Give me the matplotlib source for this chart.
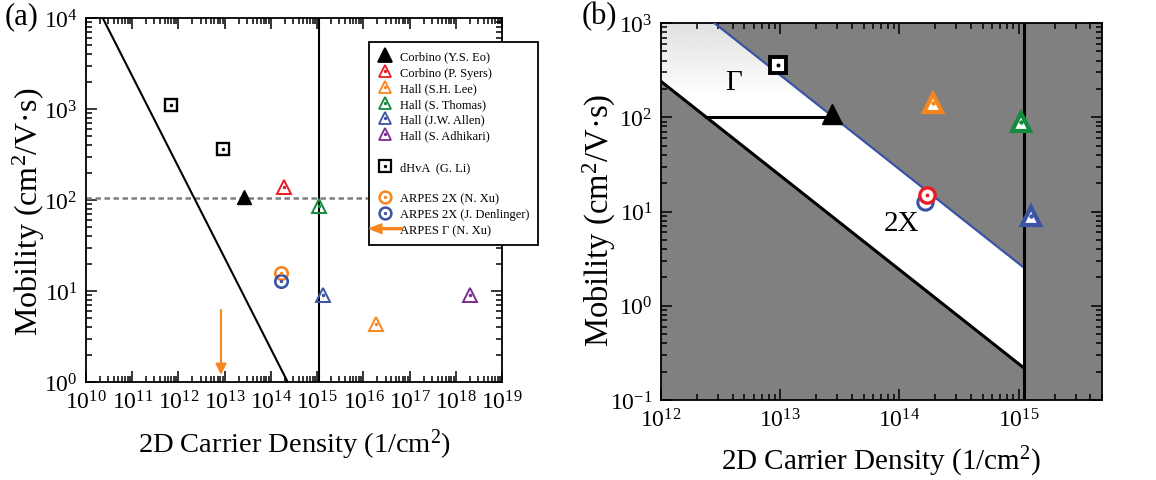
import numpy as np
import matplotlib
matplotlib.use('Agg')
import matplotlib.pyplot as plt
import matplotlib.patches as mpatches
from matplotlib.lines import Line2D
from matplotlib.legend_handler import HandlerPatch
from matplotlib.ticker import LogLocator, NullFormatter

plt.rcParams['font.family'] = ['Liberation Serif', 'DejaVu Serif']
plt.rcParams['mathtext.fontset'] = 'custom'
plt.rcParams['mathtext.rm'] = 'Liberation Serif'
plt.rcParams['mathtext.it'] = 'Liberation Serif:italic'

RED = '#ec1c24'
ORANGE = '#f7861f'
GREEN = '#138a3c'
BLUE = '#3a53a4'
PURPLE = '#7d2c8f'
GRAY = '#808080'

# ---- panel (a) data: density (1/cm^2), mobility (cm^2/V.s) ----
corbino_eo = ([2.6e13], [107])
corbino_syers = ([1.9e14], [138])
hall_lee = ([1.9e16], [4.3])
hall_thomas = ([1.1e15], [86])
hall_allen = ([1.35e15], [9.0])
hall_adhikari = ([2.0e18], [9.0])
dhva_li = ([7.0e11, 9.3e12], [1120, 365])
arpes_2x_xu = ([1.65e14], [15.8])
arpes_2x_denlinger = ([1.65e14], [12.9])
arpes_gamma_x = 8.3e12
arpes_gamma_y = (6.2, 1.2)

limit_line_a = ([2.3e10, 2.3e14], [1e4, 1.0])
vertical_n = 1.1e15
dashed_mu = 105

# ---- panel (b) data ----
b_square = ([9.5e12], [355])
b_black_tri = ([2.7e13], [107])
b_orange_tri = ([1.9e14], [141])
b_green_tri = ([1.05e15], [89])
b_blue_tri = ([1.26e15], [8.9])
b_red_circ = ([1.7e14], [15.0])
b_blue_circ = ([1.65e14], [12.6])
lower_line = ([1.0e12, 1.1e15], [240, 0.22])
upper_line = ([2.8e12, 1.1e15], [1000, 2.55])
gamma_bar = ([2.37e12, 2.7e13], [101, 101])


def style_log_axes(ax, tick_size):
    for s in ax.spines.values():
        s.set_linewidth(1.3)
    for axis in (ax.xaxis, ax.yaxis):
        axis.set_major_locator(LogLocator(base=10, numticks=30))
        axis.set_minor_locator(LogLocator(base=10, subs=np.arange(2, 10), numticks=300))
        axis.set_minor_formatter(NullFormatter())
    ax.tick_params(which='both', direction='in', top=True, right=True,
                   labelsize=tick_size, width=1.1)
    ax.tick_params(which='major', length=8, pad=6)
    ax.tick_params(which='minor', length=4.5)


def open_marker(ax, xy, marker, color, ms, mew, face='none', z=5):
    ax.plot(xy[0], xy[1], ls='none', marker=marker, ms=ms, mew=mew,
            mec=color, mfc=face, zorder=z)
    ax.plot(xy[0], xy[1], ls='none', marker='o', ms=ms * 0.16,
            mec=color, mfc=color, zorder=z + 0.1)


def arrow_handle(legend, orig_handle, xdescent, ydescent, width, height, fontsize):
    return mpatches.FancyArrow(width + 7 - xdescent, height / 2 - ydescent,
                               -(width + 13), 0, width=1.4, head_width=7,
                               head_length=9, length_includes_head=True,
                               color=ORANGE, lw=0)


fig = plt.figure(figsize=(11.56, 4.81), dpi=100)
ax1 = fig.add_axes([0.0744, 0.2037, 0.360, 0.7568])
ax2 = fig.add_axes([0.5718, 0.1663, 0.3815, 0.7838])

# ================= panel (a) =================
ax1.set_xscale('log')
ax1.set_yscale('log')
ax1.set_xlim(1e10, 1e19)
ax1.set_ylim(1e0, 1e4)

ax1.plot(*limit_line_a, color='black', lw=1.5, zorder=3)
ax1.axvline(vertical_n, color='black', lw=1.5, zorder=3)
ax1.axhline(dashed_mu, color=GRAY, lw=1.8, ls=(0, (2.2, 1.4)), zorder=2)

ms_a = 9.5
ax1.plot(*corbino_eo, ls='none', marker='^', ms=ms_a + 1, color='black', zorder=5)
open_marker(ax1, corbino_syers, '^', RED, ms_a, 1.4)
open_marker(ax1, hall_lee, '^', ORANGE, ms_a, 1.4)
open_marker(ax1, hall_thomas, '^', GREEN, ms_a, 1.4)
open_marker(ax1, hall_allen, '^', BLUE, ms_a, 1.4)
open_marker(ax1, hall_adhikari, '^', PURPLE, ms_a, 1.4)
open_marker(ax1, dhva_li, 's', 'black', ms_a - 0.5, 1.7)
open_marker(ax1, arpes_2x_xu, 'o', ORANGE, ms_a - 0.5, 1.9)
open_marker(ax1, arpes_2x_denlinger, 'o', BLUE, ms_a - 0.5, 1.9)

ax1.annotate('', xy=(arpes_gamma_x, arpes_gamma_y[1]),
             xytext=(arpes_gamma_x, arpes_gamma_y[0]),
             arrowprops=dict(arrowstyle='-|>', color=ORANGE, lw=1.5,
                             mutation_scale=16, shrinkA=0, shrinkB=0))


def leg_marker(marker, color, filled=False, mew=1.3, ms=9):
    base = Line2D([], [], ls='none', marker=marker, ms=ms, mew=mew, mec=color,
                  mfc=color if filled else 'none')
    if filled:
        return base
    dot = Line2D([], [], ls='none', marker='o', ms=ms * 0.16, mec=color, mfc=color)
    return (base, dot)


blank = Line2D([], [], ls='none')
arrow_proxy = mpatches.Patch(color=ORANGE)
handles = [leg_marker('^', 'black', filled=True, ms=10),
           leg_marker('^', RED), leg_marker('^', ORANGE), leg_marker('^', GREEN),
           leg_marker('^', BLUE), leg_marker('^', PURPLE), blank,
           leg_marker('s', 'black', mew=1.6, ms=8.5), blank,
           leg_marker('o', ORANGE, mew=1.8, ms=8.5), leg_marker('o', BLUE, mew=1.8, ms=8.5),
           arrow_proxy]
labels = ['Corbino (Y.S. Eo)', 'Corbino (P. Syers)', 'Hall (S.H. Lee)',
          'Hall (S. Thomas)', 'Hall (J.W. Allen)', 'Hall (S. Adhikari)', ' ',
          'dHvA  (G. Li)', ' ', 'ARPES 2X (N. Xu)', 'ARPES 2X (J. Denlinger)',
          'ARPES \u0393 (N. Xu)']
leg = ax1.legend(handles, labels, loc='upper left', bbox_to_anchor=(0.68, 0.934),
                 borderaxespad=0, fontsize=9, frameon=True, fancybox=False,
                 framealpha=1, edgecolor='black', labelspacing=0.3,
                 handlelength=1.2, handletextpad=0.6, borderpad=0.7,
                 handler_map={mpatches.Patch: HandlerPatch(patch_func=arrow_handle)})
leg.get_frame().set_linewidth(1.3)
leg.set_zorder(10)

style_log_axes(ax1, 17)
ax1.set_xlabel('2D Carrier Density (1/cm$^2$)', fontsize=20.5, labelpad=9)
ax1.set_ylabel('Mobility (cm$^2$/V\u00b7s)', fontsize=23)
ax1.yaxis.set_label_coords(-0.094, 0.47)

# ================= panel (b) =================
ax2.set_xscale('log')
ax2.set_yscale('log')
ax2.set_xlim(1e12, 5e15)
ax2.set_ylim(1e-1, 1e3)
ax2.set_facecolor(GRAY)

# allowed window between the two limiting lines, left of the cutoff density
top = ax2.get_ylim()[1]
band_x = [lower_line[0][0], lower_line[0][1], upper_line[0][1], upper_line[0][0],
          lower_line[0][0]]
band_y = [lower_line[1][0], lower_line[1][1], upper_line[1][1], upper_line[1][0], top]
band = mpatches.Polygon(np.column_stack([band_x, band_y]), closed=True,
                        facecolor='white', edgecolor='none', zorder=1)
ax2.add_patch(band)

# light shading fading toward the top of the window
yy = np.linspace(1, 0, 256)[:, None]
shade = np.clip(0.88 + (1 - yy) * 0.6, 0.88, 1.0) * np.ones((1, 2))
grad = ax2.imshow(shade, cmap='gray', vmin=0, vmax=1, extent=(0, 1, 0, 1),
                  transform=ax2.transAxes, aspect='auto', zorder=1.5,
                  interpolation='bilinear')
grad.set_clip_path(band)

ax2.plot(*lower_line, color='black', lw=2.2, zorder=3)
ax2.plot(*upper_line, color=BLUE, lw=1.6, zorder=3)
ax2.axvline(vertical_n, color='black', lw=2.2, zorder=3)
ax2.plot(*gamma_bar, color='black', lw=2.2, zorder=3)

ms_b = 13.5
open_marker(ax2, b_square, 's', 'black', ms_b - 2, 2.8, face='white')
ax2.plot(*b_black_tri, ls='none', marker='^', ms=ms_b + 1, color='black', zorder=5)
open_marker(ax2, b_orange_tri, '^', ORANGE, ms_b, 3.0, face='white')
open_marker(ax2, b_green_tri, '^', GREEN, ms_b, 3.0, face='white')
open_marker(ax2, b_blue_tri, '^', BLUE, ms_b, 3.0, face='white')
ax2.plot(*b_blue_circ, ls='none', marker='o', ms=ms_b - 2.5, mew=2.2, mec=BLUE,
         mfc='white', zorder=5)
open_marker(ax2, b_red_circ, 'o', RED, ms_b - 2.5, 2.4, face='white', z=6)

ax2.text(4.1e12, 236, '\u0393', fontsize=21, ha='center', va='center', zorder=4)
ax2.text(1.05e14, 7.6, '2X', fontsize=21, ha='center', va='center', zorder=4)

style_log_axes(ax2, 17)
ax2.set_xlabel('2D Carrier Density (1/cm$^2$)', fontsize=21, labelpad=9)
ax2.set_ylabel('Mobility (cm$^2$/V\u00b7s)', fontsize=23.5)
ax2.yaxis.set_label_coords(-0.0975, 0.48)

fig.text(0.004, 0.965, '(a)', fontsize=22, ha='left', va='center')
fig.text(0.503, 0.965, '(b)', fontsize=22, ha='left', va='center')

fig.savefig('out.png', dpi=100)
